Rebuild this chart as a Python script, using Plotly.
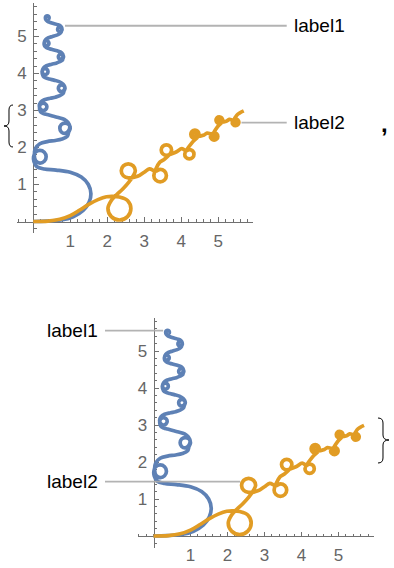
import plotly.graph_objects as go

W, H = 394, 568

# ---- data (data coordinates) ----
blue_path = [
    (0.00, 0.00), (0.35, 0.01), (0.75, 0.04), (1.08, 0.13), (1.35, 0.30), (1.51, 0.52),
    (1.56, 0.75), (1.49, 1.00), (1.30, 1.20), (1.00, 1.33), (0.62, 1.39), (0.30, 1.42),
    (0.10, 1.48),
    (0.02, 1.62), (0.01, 1.75), (0.06, 1.87), (0.18, 1.92), (0.30, 1.87), (0.35, 1.75),
    (0.30, 1.63), (0.18, 1.58), (0.07, 1.64), (0.03, 1.78),
    (0.06, 1.97), (0.18, 2.10), (0.38, 2.16), (0.60, 2.19),
    (0.78, 2.23), (0.92, 2.30),
    (0.96, 2.42), (1.00, 2.52), (0.96, 2.62), (0.86, 2.66), (0.76, 2.62), (0.72, 2.52),
    (0.76, 2.42), (0.86, 2.38), (0.95, 2.44), (0.99, 2.56), (0.94, 2.68), (0.84, 2.76),
    (0.68, 2.81), (0.52, 2.85), (0.38, 2.89),
    (0.28, 2.92), (0.20, 2.96),
    (0.17, 3.10), (0.20, 3.17), (0.27, 3.20), (0.34, 3.17), (0.37, 3.10), (0.34, 3.03),
    (0.27, 3.00), (0.20, 3.03), (0.165, 3.12), (0.20, 3.22), (0.30, 3.29),
    (0.46, 3.33), (0.60, 3.36),
    (0.72, 3.40), (0.81, 3.46),
    (0.834, 3.536), (0.86, 3.60), (0.834, 3.664), (0.77, 3.69), (0.706, 3.664), (0.68, 3.60),
    (0.706, 3.536), (0.77, 3.51), (0.835, 3.55), (0.855, 3.63), (0.81, 3.71),
    (0.70, 3.78), (0.56, 3.82), (0.44, 3.85),
    (0.34, 3.88), (0.27, 3.93),
    (0.24, 4.05), (0.263, 4.107), (0.32, 4.13), (0.377, 4.107), (0.40, 4.05), (0.377, 3.993),
    (0.32, 3.97), (0.263, 3.993), (0.245, 4.07), (0.28, 4.15), (0.36, 4.21),
    (0.50, 4.25), (0.62, 4.28),
    (0.72, 4.32), (0.79, 4.36),
    (0.80, 4.40), (0.82, 4.45), (0.80, 4.50), (0.75, 4.52), (0.70, 4.50), (0.68, 4.45),
    (0.70, 4.40), (0.75, 4.38), (0.79, 4.42), (0.81, 4.49), (0.77, 4.56),
    (0.68, 4.60), (0.54, 4.64), (0.44, 4.67),
    (0.36, 4.70), (0.31, 4.74),
    (0.295, 4.82), (0.314, 4.866), (0.36, 4.885), (0.406, 4.866), (0.425, 4.82), (0.406, 4.774),
    (0.36, 4.755), (0.314, 4.774), (0.30, 4.84), (0.33, 4.91), (0.40, 4.96),
    (0.52, 5.00), (0.62, 5.03),
    (0.70, 5.07), (0.755, 5.12),
    (0.762, 5.148), (0.78, 5.19), (0.762, 5.232), (0.72, 5.25), (0.678, 5.232), (0.66, 5.19),
    (0.678, 5.148), (0.72, 5.13), (0.762, 5.16), (0.775, 5.22), (0.74, 5.28),
    (0.66, 5.32), (0.55, 5.35), (0.46, 5.38),
    (0.39, 5.41), (0.345, 5.45),
    (0.33, 5.51), (0.345, 5.545), (0.38, 5.56), (0.415, 5.545), (0.43, 5.51), (0.415, 5.475),
    (0.38, 5.46), (0.35, 5.48), (0.36, 5.51), (0.385, 5.52),
]

orange_path = [
    (0.00, 0.00), (0.40, 0.01), (0.72, 0.06), (1.00, 0.16), (1.26, 0.31), (1.50, 0.46),
    (1.75, 0.59), (1.98, 0.67), (2.17, 0.68),
    (2.33, 0.66), (2.549, 0.569), (2.64, 0.35), (2.549, 0.131), (2.33, 0.04), (2.111, 0.131),
    (2.02, 0.35), (2.111, 0.569),
    (2.26, 0.73), (2.42, 0.88), (2.58, 1.06),
    (2.704, 1.236), (2.76, 1.37), (2.704, 1.504), (2.57, 1.56), (2.436, 1.504), (2.38, 1.37),
    (2.436, 1.236), (2.57, 1.18),
    (2.82, 1.22), (3.00, 1.33), (3.14, 1.42),
    (3.31, 1.36), (3.43, 1.41), (3.55, 1.36), (3.60, 1.24), (3.55, 1.12), (3.43, 1.07),
    (3.31, 1.12), (3.26, 1.24),
    (3.42, 1.60), (3.53, 1.67),
    (3.70, 1.83), (3.74, 1.93), (3.70, 2.03), (3.60, 2.07), (3.50, 2.03), (3.46, 1.93),
    (3.50, 1.83), (3.60, 1.79),
    (3.85, 1.87), (4.02, 1.97),
    (4.13, 1.91), (4.22, 1.945), (4.31, 1.91), (4.345, 1.82), (4.31, 1.73), (4.22, 1.695),
    (4.13, 1.73), (4.095, 1.82),
    (4.30, 2.14),
    (4.448, 2.282), (4.48, 2.36), (4.448, 2.438), (4.37, 2.47), (4.292, 2.438), (4.26, 2.36),
    (4.292, 2.282), (4.37, 2.25), (4.425, 2.36), (4.37, 2.415), (4.315, 2.36), (4.37, 2.305),
    (4.62, 2.34), (4.70, 2.39),
    (4.82, 2.37), (4.89, 2.40), (4.96, 2.37), (4.99, 2.30), (4.96, 2.23), (4.89, 2.20),
    (4.82, 2.23), (4.79, 2.30), (4.89, 2.35), (4.94, 2.30), (4.89, 2.25), (4.84, 2.30),
    (4.98, 2.56),
    (5.094, 2.676), (5.12, 2.74), (5.094, 2.804), (5.03, 2.83), (4.966, 2.804), (4.94, 2.74),
    (4.966, 2.676), (5.03, 2.65), (5.075, 2.74), (5.03, 2.785), (4.985, 2.74), (5.03, 2.695),
    (5.22, 2.71), (5.30, 2.76),
    (5.406, 2.744), (5.47, 2.77), (5.534, 2.744), (5.56, 2.68), (5.534, 2.616), (5.47, 2.59),
    (5.406, 2.616), (5.38, 2.68), (5.47, 2.725), (5.515, 2.68), (5.47, 2.635), (5.425, 2.68),
    (5.50, 2.87), (5.69, 2.99),
]

tick_vals = [1, 2, 3, 4, 5]
tick_text = ["1", "2", "3", "4", "5"]
x_range = [-0.43, 5.95]
y_range = [-0.32, 5.9]

label_texts = ["label1", "label2"]
# callout anchor points on the curves (data coords) for each panel
top_anchors = [(0.86, 5.29), (5.63, 2.67)]
bottom_anchors = [(0.26, 5.55), (2.34, 1.47)]

BLUE = "#5E81B5"
ORANGE = "#E19C24"
AXIS = "#707070"
TICKFONT = "#666666"
LEADER = "#ABABAB"

# ---- layout geometry (pixels) ----
SCALE = 37.0
panels = [dict(ox=33.2, oy=221.5), dict(ox=153.5, oy=536.0)]


def to_paper(px, py):
    return px / W, 1 - py / H


def data_px(p, x, y):
    return p["ox"] + x * SCALE, p["oy"] - y * SCALE


fig = go.Figure()
bx = [p[0] for p in blue_path]
by = [p[1] for p in blue_path]
ox_ = [p[0] for p in orange_path]
oy_ = [p[1] for p in orange_path]

for i, p in enumerate(panels):
    sfx = "" if i == 0 else str(i + 1)
    for xs, ys, col in [(bx, by, BLUE), (ox_, oy_, ORANGE)]:
        fig.add_trace(go.Scatter(
            x=xs, y=ys, mode="lines", xaxis="x" + sfx, yaxis="y" + sfx,
            line=dict(color=col, width=3.7, shape="spline", smoothing=1.0, simplify=False),
            hoverinfo="skip", showlegend=False))
    xd0 = (p["ox"] + x_range[0] * SCALE) / W
    xd1 = (p["ox"] + x_range[1] * SCALE) / W
    yd0 = 1 - (p["oy"] - y_range[0] * SCALE) / H
    yd1 = 1 - (p["oy"] - y_range[1] * SCALE) / H
    common = dict(showgrid=False, zeroline=False, showline=True, linecolor=AXIS, linewidth=1,
                  ticks="inside", ticklen=4.5, tickwidth=1, tickcolor=AXIS,
                  tickmode="array", tickvals=tick_vals, ticktext=tick_text,
                  tickfont=dict(family="Liberation Sans, Arial", size=17, color=TICKFONT),
                  minor=dict(ticks="inside", ticklen=2.5, tickwidth=1, tickcolor=AXIS,
                             tickmode="linear", tick0=0, dtick=0.2, showgrid=False),
                  layer="below traces", fixedrange=True, anchor="free")
    fig.update_layout(**{
        "xaxis" + sfx: dict(common, domain=[xd0, xd1], range=x_range,
                            position=1 - p["oy"] / H, ticklabelstandoff=4),
        "yaxis" + sfx: dict(common, domain=[yd0, yd1], range=y_range,
                            position=p["ox"] / W, ticklabelstandoff=3),
    })

shapes = []
annotations = []
lead = dict(type="line", xref="paper", yref="paper", layer="above",
            line=dict(color=LEADER, width=1.8), opacity=0.9)
# top panel: labels to the right
for (ax, ay), txt in zip(top_anchors, label_texts):
    x0, y0 = data_px(panels[0], ax, ay)
    a = to_paper(x0, y0)
    b = to_paper(286.7, y0)
    shapes.append(dict(lead, x0=a[0], y0=a[1], x1=b[0], y1=b[1]))
    t = to_paper(291.5, y0)
    annotations.append(dict(text=txt, x=t[0], y=t[1], xref="paper", yref="paper",
                            xanchor="left", yanchor="middle", showarrow=False,
                            font=dict(family="Liberation Sans, Arial", size=19, color="black")))
# bottom panel: labels to the left
for (ax, ay), txt in zip(bottom_anchors, label_texts):
    x0, y0 = data_px(panels[1], ax, ay)
    a = to_paper(x0, y0)
    b = to_paper(105, y0)
    shapes.append(dict(lead, x0=a[0], y0=a[1], x1=b[0], y1=b[1]))
    t = to_paper(99.5, y0)
    annotations.append(dict(text=txt, x=t[0], y=t[1], xref="paper", yref="paper",
                            xanchor="right", yanchor="middle", showarrow=False,
                            font=dict(family="Liberation Sans, Arial", size=19, color="black")))

# comma between the two outputs
c = to_paper(384, 123)
annotations.append(dict(text="<b>,</b>", x=c[0], y=c[1], xref="paper", yref="paper",
                        xanchor="center", yanchor="middle", showarrow=False,
                        font=dict(family="Liberation Sans, Arial", size=24, color="black")))


def brace_path(pts_cmds):
    out = []
    for cmd in pts_cmds:
        if isinstance(cmd, str):
            out.append(cmd)
        else:
            px, py = to_paper(*cmd)
            out.append(f"{px:.5f},{py:.5f}")
    return " ".join(out)


left_brace = ["M", (13, 105), "Q", (9, 105), (9, 110), "L", (9, 121), "Q", (9, 126), (4, 126),
              "Q", (9, 126), (9, 131), "L", (9, 142), "Q", (9, 147), (13, 147)]
right_brace = ["M", (378, 418), "Q", (383, 418), (383, 423), "L", (383, 435), "Q", (383, 440), (389, 440),
               "Q", (383, 440), (383, 445), "L", (383, 458), "Q", (383, 463), (378, 463)]
for bp in (left_brace, right_brace):
    shapes.append(dict(type="path", xref="paper", yref="paper", path=brace_path(bp),
                       line=dict(color="black", width=1)))

fig.update_layout(width=W, height=H, autosize=False,
                  margin=dict(l=0, r=0, t=0, b=0),
                  paper_bgcolor="white", plot_bgcolor="rgba(0,0,0,0)",
                  shapes=shapes, annotations=annotations, showlegend=False)

fig.write_html("out.html", config={"displayModeBar": False})
